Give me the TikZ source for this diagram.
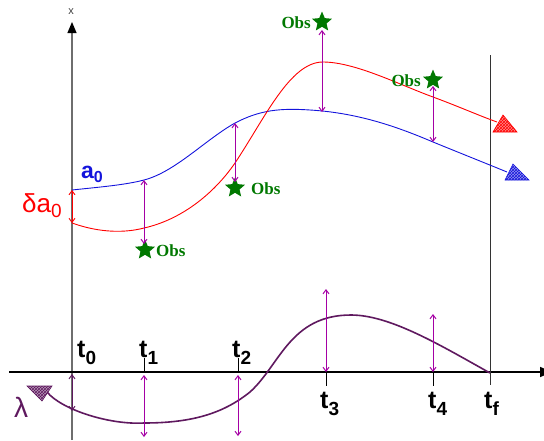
\documentclass[tikz,border=0pt]{standalone}
\usepackage{fontspec}
\setmainfont{Liberation Sans}
\newfontfamily\obsfont{Liberation Serif}
\usetikzlibrary{arrows.meta,shapes.geometric,patterns}
\definecolor{cblue}{RGB}{20,20,220}
\definecolor{cred}{RGB}{255,0,0}
\definecolor{cmag}{RGB}{165,0,165}
\definecolor{clam}{RGB}{95,25,95}
\definecolor{cgreen}{RGB}{0,120,0}
\definecolor{caxis}{RGB}{110,110,110}
\newcommand\lowsub[3]{\raisebox{-#2pt}{\fontsize{#1}{#1}\selectfont #3}}
\begin{document}
\begin{tikzpicture}[x=1pt,y=-1pt,
  tlbl/.style={font=\bfseries\fontsize{25}{25}\selectfont, inner sep=0pt, anchor=base west},
  obs/.style={text=cgreen, font=\obsfont\bfseries\fontsize{17}{17}\selectfont, inner sep=0pt},
  staricon/.style={star, star points=5, star point ratio=2.2, fill=cgreen, draw=none, minimum size=21pt, inner sep=0pt},
  dbl/.style={draw=cmag, line width=1pt, {Straight Barb[length=4pt,width=6pt]}-{Straight Barb[length=4pt,width=6pt]}},
  tick/.style={draw=black, line width=1pt},
  marker/.style={preaction={fill=#1!45}, pattern=crosshatch, pattern color=#1, draw=#1, line width=0.6pt},
]
\useasboundingbox (0,0) rectangle (544,440);

% axes
\coordinate (vbot) at (72,440);
\coordinate (vtop) at (72,22);
\draw[caxis, line width=1.2pt, -{Triangle[length=11pt,width=9pt,color=black,fill=black]}] (vbot) -- (vtop);
\node[font=\fontsize{11}{11}\selectfont, text=caxis!60!black, inner sep=0pt] (xlab) at (71,12) {x};
\coordinate (hleft) at (9,372);
\coordinate (hright) at (552,372);
\draw[black, line width=1.6pt, -{Triangle[length=12pt,width=10pt]}] (hleft) -- (hright);
\coordinate (tftop) at (490,55);
\coordinate (tfbot) at (490,385);
\draw[black!80, line width=0.8pt] (tftop) -- (tfbot);

% ticks
\coordinate (k1a) at (144,372); \coordinate (k1b) at (144,358);
\coordinate (k2a) at (238,372); \coordinate (k2b) at (238,358);
\coordinate (k3a) at (326,372); \coordinate (k3b) at (326,386);
\coordinate (k4a) at (433,372); \coordinate (k4b) at (433,386);
\draw[tick] (k1a) -- (k1b); \draw[tick] (k2a) -- (k2b);
\draw[tick] (k3a) -- (k3b); \draw[tick] (k4a) -- (k4b);

% tick labels
\node[tlbl] (t0) at (77,357) {t\lowsub{19}{7}{0}};
\node[tlbl] (t1) at (139,357) {t\lowsub{19}{7}{1}};
\node[tlbl] (t2) at (232,357) {t\lowsub{19}{7}{2}};
\node[tlbl] (t3) at (320,408) {t\lowsub{19}{7}{3}};
\node[tlbl] (t4) at (428,408) {t\lowsub{19}{7}{4}};
\node[tlbl] (tf) at (484,408) {t\lowsub{19}{7}{f}};

% blue trajectory a0
\draw[cblue, line width=0.9pt] (72,190) .. controls (100,187) and (125,185) .. (144,180)
  .. controls (175,172) and (205,140) .. (235,123)
  .. controls (260,110) and (280,108) .. (310,110)
  .. controls (360,113) and (400,128) .. (433,142)
  .. controls (460,153) and (485,163) .. (507,172);
\path[marker=cblue] (505,180) -- (513,164) -- (529,180) -- cycle;
% red trajectory
\draw[cred, line width=0.9pt] (72,223) .. controls (100,233) and (125,233) .. (144,228)
  .. controls (180,220) and (213,195) .. (235,163)
  .. controls (265,118) and (290,62) .. (323,62)
  .. controls (355,62) and (400,85) .. (433,97)
  .. controls (460,107) and (480,116) .. (497,122);
\path[marker=cred] (493,132) -- (503,115) -- (517,132) -- cycle;

% lambda curve
\draw[clam, line width=1.6pt] (47,392) .. controls (62,410) and (110,425) .. (144,423)
  .. controls (195,423) and (225,412) .. (250,392)
  .. controls (280,365) and (290,315) .. (351,315)
  .. controls (390,315) and (440,345) .. (490,373);
\path[marker=clam] (27,386) -- (52,386) -- (42,401) -- cycle;

% labels
\node[text=cblue, font=\bfseries\fontsize{23}{23}\selectfont, inner sep=0pt, anchor=base west] (a0) at (81,178) {a\lowsub{16}{4}{0}};
\node[text=cred, font=\fontsize{26}{26}\selectfont, inner sep=0pt, anchor=base west] (da0) at (22,212) {δa\lowsub{19}{5}{0}};
\node[text=clam, font=\fontsize{28}{28}\selectfont, inner sep=0pt, anchor=base west] (lam) at (14,417) {λ};

% delta a0 arrow
\coordinate (d0a) at (72,190); \coordinate (d0b) at (72,223);
\draw[cred, line width=0.9pt, {Straight Barb[length=4pt,width=6pt]}-{Straight Barb[length=4pt,width=6pt]}] (d0a) -- (d0b);

% observations
\node[staricon] (s1) at (145,250) {};
\node[obs, anchor=west] (o1) at (156,251) {Obs};
\node[staricon] (s2) at (235,188) {};
\node[obs, anchor=west] (o2) at (251,189) {Obs};
\node[staricon] (s3) at (322,22) {};
\node[obs, anchor=east] (o3) at (311,23) {Obs};
\node[staricon] (s4) at (433,80) {};
\node[obs, anchor=east] (o4) at (421,81) {Obs};

\coordinate (b1) at (144,180); \coordinate (e1) at (144,244);
\coordinate (b2) at (235,123); \coordinate (e2) at (235,182);
\coordinate (b3) at (322,30);  \coordinate (e3) at (322,112);
\coordinate (b4) at (433,86);  \coordinate (e4) at (433,142);
\draw[dbl] (b1) -- (e1);
\draw[dbl] (b2) -- (e2);
\draw[dbl] (b3) -- (e3);
\draw[dbl] (b4) -- (e4);

% lower arrows
\coordinate (l0a) at (72,374); \coordinate (l0b) at (72,411);
\coordinate (l1a) at (144,375); \coordinate (l1b) at (144,437);
\coordinate (l2a) at (238,375); \coordinate (l2b) at (238,436);
\coordinate (l3a) at (326,289); \coordinate (l3b) at (326,372);
\coordinate (l4a) at (433,314); \coordinate (l4b) at (433,372);
\draw[dbl, draw=clam] (l0a) -- (l0b);
\draw[dbl] (l1a) -- (l1b);
\draw[dbl] (l2a) -- (l2b);
\draw[dbl] (l3a) -- (l3b);
\draw[dbl] (l4a) -- (l4b);
\end{tikzpicture}
\end{document}
